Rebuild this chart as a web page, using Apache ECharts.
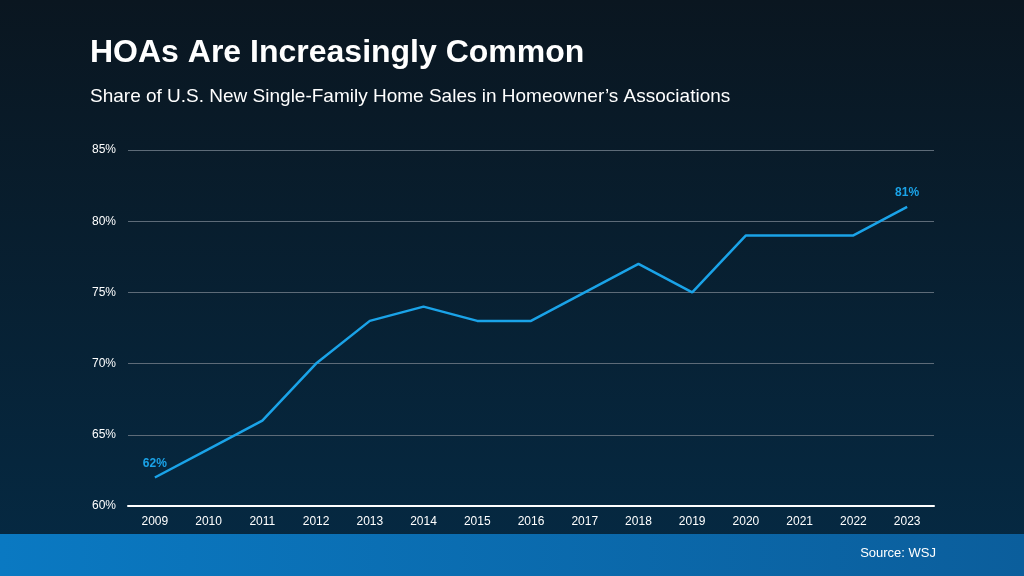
<!DOCTYPE html>
<html><head><meta charset="utf-8">
<script src="https://cdn.jsdelivr.net/npm/echarts@6/dist/echarts.min.js"></script>
<style>html,body{margin:0;padding:0;}#c{width:1024px;height:576px;}</style>
</head><body><div id="c"></div>
<script>
const years = ['2009','2010','2011','2012','2013','2014','2015','2016','2017','2018','2019','2020','2021','2022','2023'];
const shares = [62,64,66,70,73,74,73,73,75,77,75,79,79,79,81];
const chart = echarts.init(document.getElementById('c'));
const last = shares.length - 1;
chart.setOption({
  backgroundColor: {type:'linear',x:0,y:0,x2:0,y2:1,colorStops:[{offset:0,color:'#0a1620'},{offset:1,color:'#052a44'}]},
  graphic: [
    {type:'rect',left:0,top:534,shape:{width:1024,height:42},style:{fill:{type:'linear',x:0,y:0,x2:1,y2:0,colorStops:[{offset:0,color:'#0a79c2'},{offset:1,color:'#0b5e9c'}]}}},
    {type:'text',left:90,top:37,style:{text:'HOAs Are Increasingly Common',fill:'#fff',font:'bold 32px Arial, "Liberation Sans", sans-serif'}},
    {type:'text',left:90,top:87,style:{text:'Share of U.S. New Single-Family Home Sales in Homeowner\u2019s Associations',fill:'#fff',font:'19px Arial, "Liberation Sans", sans-serif'}},
    {type:'text',right:88,top:547,style:{text:'Source: WSJ',fill:'#fff',font:'13px Arial, "Liberation Sans", sans-serif'}}
  ],
  grid:{left:128,right:90,top:150,bottom:70},
  xAxis:{type:'category',data:years,boundaryGap:true,
    axisLine:{lineStyle:{color:'#fff',width:2}},axisTick:{show:false},
    axisLabel:{color:'#fff',fontSize:12,fontFamily:'Arial',margin:10}},
  yAxis:{type:'value',min:60,max:85,interval:5,
    axisLabel:{color:'#fff',fontSize:12,fontFamily:'Arial',formatter:'{value}%',margin:12},
    splitLine:{lineStyle:{color:'#5d6b78',width:1}},axisLine:{show:false},axisTick:{show:false}},
  series:[{type:'line',symbol:'circle',symbolSize:0,showSymbol:true,lineStyle:{color:'#1aa3e8',width:2.5},itemStyle:{color:'#1aa3e8'},
    data:shares.map((v,i)=>({value:v,label:{show:i===0||i===last}})),
    label:{position:'top',color:'#1aa3e8',fontWeight:'bold',fontSize:12,fontFamily:'Arial',distance:8,formatter:'{c}%'}}]
});
</script></body></html>
